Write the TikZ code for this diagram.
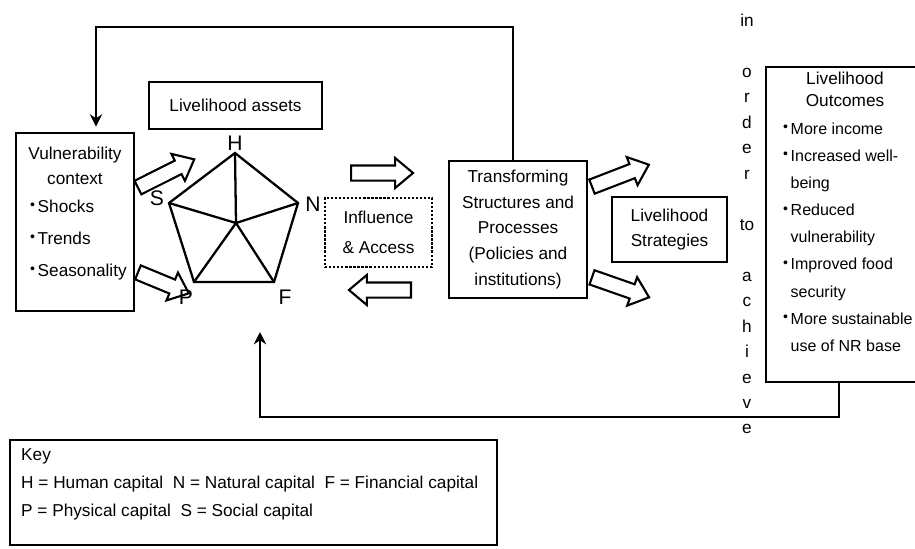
\documentclass[tikz,border=0pt]{standalone}
\usepackage{fontspec}
\setmainfont{Liberation Sans}
\usepackage{tikz}
\usetikzlibrary{arrows.meta}
\usetikzlibrary{shapes.arrows}
\newcommand{\bul}{\makebox[0.15cm][l]{\raisebox{0.3ex}{\footnotesize •}}}
\tikzset{box/.style={
		draw,
		line width=1.3pt,
		align=center,
		inner sep=0pt},
	blockarrow/.style={
		single arrow,
		draw,
		line width=1.2pt,
		inner xsep=0pt,
		inner ysep=0.13cm,
		single arrow head extend=0.15cm,
		single arrow tip angle=80},
	feedback/.style={
		draw,
		line width=1.2pt,
		-{Stealth[length=7pt,width=7pt]}},
	capital/.style={font=\fontsize{12}{12}\selectfont}
}

\begin{document}
\begin{tikzpicture}[x=0.02cm, y=-0.02cm, font=\fontsize{9.8}{12}\selectfont]
	\useasboundingbox (0,0) rectangle (915,548);
	
	\node[box, minimum width=2.36cm, minimum height=3.56cm] (vuln) at (75,222) {};
	\node[align=center, font=\fontsize{9.8}{14.2}\selectfont] (vulnT) at (75,166) {Vulnerability\\context};
	\node[align=left, anchor=west, font=\fontsize{9.8}{18.1}\selectfont] (vulnB) at (24,240) {\bul Shocks\\\bul Trends\\\bul Seasonality};
	
	\node[box, minimum width=3.46cm, minimum height=0.94cm] (assets) at (235.5,105.5) {Livelihood assets};
	
	\coordinate (h) at (235,153);
	\coordinate (n) at (298,203);
	\coordinate (f) at (274,282);
	\coordinate (p) at (194,282);
	\coordinate (s) at (169,203);
	\coordinate (c) at (236,223);
	\draw[line width=1.3pt] (h) -- (n) -- (f) -- (p) -- (s) -- cycle;
	\draw[line width=1.3pt] (c) -- (h) (c) -- (n) (c) -- (f) (c) -- (p) (c) -- (s);
	\node[capital] (labH) at (235,143) {H};
	\node[capital] (labN) at (313,204) {N};
	\node[capital] (labF) at (285,297) {F};
	\node[capital] (labP) at (186,297) {P};
	\node[capital] (labS) at (157,198) {S};
	
	\node[blockarrow, minimum height=1.26cm, rotate=26.6, anchor=tail] (arrS) at (137,188) {};
	\node[blockarrow, minimum height=1.1cm, rotate=-22.4, anchor=tail] (arrP) at (137,272) {};
	
	\node[box, densely dotted, minimum width=2.14cm, minimum height=1.38cm, font=\fontsize{9.8}{17}\selectfont] (infl) at (378.5,232.5) {Influence\\\& Access};
	\node[blockarrow, minimum height=1.24cm, anchor=tail] (arrAcc) at (350,173) {};
	\node[blockarrow, minimum height=1.24cm, rotate=180, anchor=tail] (arrInf) at (412,290) {};
	
	\node[box, minimum width=2.76cm, minimum height=2.74cm, font=\fontsize{9.8}{14.6}\selectfont] (trans) at (518,229.5) {Transforming\\Structures and\\Processes\\(Policies and\\institutions)};
	
	\node[blockarrow, minimum height=1.22cm, rotate=21.1, anchor=tail] (arrUp) at (591,187) {};
	\node[blockarrow, minimum height=1.21cm, rotate=-19.3, anchor=tail] (arrDown) at (591,277) {};
	\node[box, minimum width=2.3cm, minimum height=1.3cm, font=\fontsize{9.8}{14.2}\selectfont] (strat) at (669.5,229.5) {Livelihood\\Strategies};
	
	\node[align=center, font=\fontsize{9.8}{14.5}\selectfont] (aim) at (747,224) {in\\[14.5pt]o\\r\\d\\e\\r\\[14.5pt]to\\[14.5pt]a\\c\\h\\i\\e\\v\\e};
	
	\node[box, minimum width=3.16cm, minimum height=6.3cm] (outc) at (845,224.5) {};
	\node[align=center, font=\fontsize{9.8}{12.5}\selectfont] (outcT) at (845,89) {Livelihood\\Outcomes};
	\node[align=left, anchor=west, font=\fontsize{9.1}{15.45}\selectfont] (outcB) at (777,237) {\bul More income\\\bul Increased well-\\\hspace*{0.15cm}being\\\bul Reduced\\\hspace*{0.15cm}vulnerability\\\bul Improved food\\\hspace*{0.15cm}security\\\bul More sustainable\\\hspace*{0.15cm}use of NR base};
	
	\coordinate (topleft) at (96,27);
	\draw[feedback, shorten >=3pt] ([xshift=-0.1cm]trans.north) |- (topleft) -- (topleft |- vuln.north);
	
	\coordinate (botright) at (839,417);
	\coordinate (botleft) at (260,417);
	\coordinate (assetsIn) at (260,332);
	\draw[feedback] (outc.south -| botright) -- (botright) -- (botleft) -- (assetsIn);
	
	\node[box, minimum width=9.74cm, minimum height=2.1cm] (key) at (253.5,492.5) {};
	\node[align=left, anchor=west, font=\fontsize{9.8}{15.9}\selectfont] (keyT) at (15,484.5) {Key\\H = Human capital\ \ N = Natural capital\ \ F = Financial capital\\P = Physical capital\ \ S = Social capital};
	
\end{tikzpicture}
\end{document}
